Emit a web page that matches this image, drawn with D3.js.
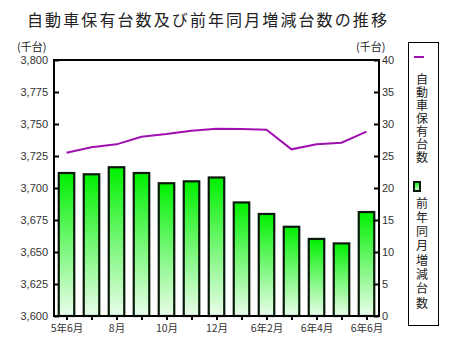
<!DOCTYPE html>
<html><head><meta charset="utf-8">
<script src="https://cdn.jsdelivr.net/npm/d3@7/dist/d3.min.js"></script>
<style>
body{margin:0;background:#fff;}
svg{display:block;font-family:"Liberation Sans",Arial,sans-serif;}
.jp{font-family:"Noto Sans CJK JP",sans-serif;}
</style></head><body>
<svg id="c" width="453" height="358"></svg>
<script>
const categories = ["5年6月","7月","8月","9月","10月","11月","12月","6年1月","6年2月","6年3月","6年4月","6年5月","6年6月"];
const xLabels = ["5年6月","","8月","","10月","","12月","","6年2月","","6年4月","","6年6月"];
const holdings = [3727.6,3731.8,3734.1,3740.1,3742.2,3744.8,3746.3,3746.1,3745.5,3730.2,3734.1,3735.4,3744.0];
const yoyChange = [22.5,22.3,23.4,22.5,20.9,21.2,21.8,17.9,16.1,14.1,12.2,11.5,16.4];
const leftTicks = [3600,3625,3650,3675,3700,3725,3750,3775,3800];
const rightTicks = [0,5,10,15,20,25,30,35,40];
const title = "自動車保有台数及び前年同月増減台数の推移";
const legendNames = ["自動車保有台数","前年同月増減台数"];
const unitLabel = "(千台)";

const svg = d3.select("#c");
const L=54, R=379, T=60, B=316;

const x = d3.scaleBand().domain(categories).range([L,R]).paddingInner(0.38).paddingOuter(0.19);
const xc = d3.scalePoint().domain(categories).range([L,R]).padding(0.5);
const yL = d3.scaleLinear().domain([3600,3800]).range([B,T]);
const yR = d3.scaleLinear().domain([0,40]).range([B,T]);

const defs = svg.append("defs");
const g = defs.append("linearGradient").attr("id","gr").attr("x1",0).attr("y1",0).attr("x2",0).attr("y2",1);
g.append("stop").attr("offset","0%").attr("stop-color","#00f000");
g.append("stop").attr("offset","100%").attr("stop-color","#ebfdeb");

// title
svg.append("text").attr("class","jp").attr("x",27).attr("y",26)
  .attr("font-size",16).attr("letter-spacing","2.1px").attr("fill","#222").text(title);

// unit labels
svg.append("text").attr("class","jp").attr("x",17).attr("y",51).attr("font-size",11).attr("fill","#222").text(unitLabel);
svg.append("text").attr("class","jp").attr("x",356).attr("y",51).attr("font-size",11).attr("fill","#222").text(unitLabel);

// bars
svg.append("g").selectAll("rect").data(yoyChange).join("rect")
  .attr("x",(d,i)=>x(categories[i])).attr("width",x.bandwidth())
  .attr("y",d=>yR(d)+1).attr("height",d=>B-yR(d)-1)
  .attr("fill","url(#gr)").attr("stroke","#0a1a0a").attr("stroke-width",2.2);

// line
const line = d3.line().x((d,i)=>xc(categories[i])).y(d=>yL(d));
svg.append("path").datum(holdings).attr("d",line).attr("fill","none")
  .attr("stroke","#a010b0").attr("stroke-width",2);

// frame
svg.append("rect").attr("x",L).attr("y",T).attr("width",R-L).attr("height",B-T)
  .attr("fill","none").attr("stroke","#000").attr("stroke-width",2);

// left axis
const la = svg.append("g").attr("transform",`translate(${L},0)`)
  .call(d3.axisRight(yL).tickValues(leftTicks).tickSize(5).tickFormat(d3.format(",")));
la.select(".domain").remove();
la.selectAll(".tick line").attr("stroke","#000").attr("stroke-width",2);
la.selectAll(".tick text").attr("x",-6).attr("text-anchor","end").attr("font-size",11)
  .attr("fill","#333").attr("font-family","Liberation Sans, Arial, sans-serif");

// right axis
const ra = svg.append("g").attr("transform",`translate(${R},0)`)
  .call(d3.axisLeft(yR).tickValues(rightTicks).tickSize(5));
ra.select(".domain").remove();
ra.selectAll(".tick line").attr("stroke","#000").attr("stroke-width",2);
ra.selectAll(".tick text").attr("x",3).attr("text-anchor","start").attr("font-size",11)
  .attr("fill","#333").attr("font-family","Liberation Sans, Arial, sans-serif");

// bottom axis
const ba = svg.append("g").attr("transform",`translate(0,${B})`)
  .call(d3.axisBottom(xc).tickSize(4).tickFormat((d,i)=>xLabels[i]));
ba.select(".domain").remove();
ba.selectAll(".tick line").attr("stroke","#000").attr("stroke-width",2);
ba.selectAll(".tick text").attr("class","jp").attr("y",9).attr("font-size",10.5).attr("fill","#333");

// legend
svg.append("rect").attr("x",408.5).attr("y",42.5).attr("width",30).attr("height",283)
  .attr("fill","#fff").attr("stroke","#000").attr("stroke-width",1);
svg.append("line").attr("x1",414).attr("x2",424).attr("y1",57).attr("y2",57)
  .attr("stroke","#a010b0").attr("stroke-width",2);
svg.append("rect").attr("x",414).attr("y",182).attr("width",6).attr("height",9)
  .attr("fill","url(#gr)").attr("stroke","#0a1a0a").attr("stroke-width",2);
const starts=[73,197], spacing=[1.1,2.3];
legendNames.forEach((name,k)=>{
  svg.append("text").attr("class","jp").attr("x",422).attr("y",starts[k])
    .style("writing-mode","vertical-rl").attr("letter-spacing",spacing[k]+"px")
    .attr("font-size",12).attr("fill","#222").text(name);
});
</script></body></html>
